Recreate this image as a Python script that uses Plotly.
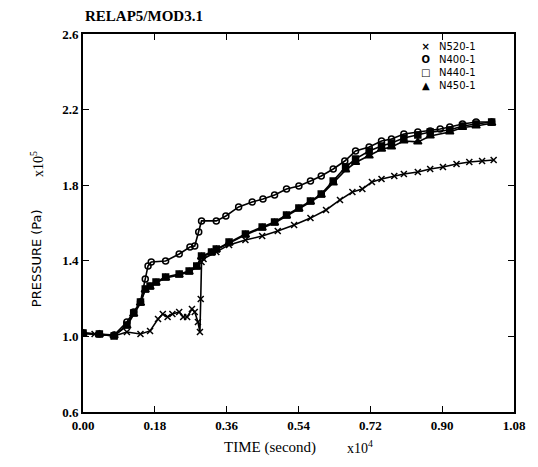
import plotly.graph_objects as go

# Time in units of 1e4 s, pressure in units of 1e5 Pa
t_n400 = [0.000, 0.041, 0.078, 0.110, 0.127, 0.144, 0.156, 0.163, 0.171, 0.207, 0.241, 0.268, 0.280,
          0.290, 0.297, 0.334, 0.358, 0.390, 0.424, 0.451, 0.480, 0.510, 0.541, 0.570, 0.597, 0.627,
          0.656, 0.683, 0.717, 0.748, 0.773, 0.804, 0.839, 0.870, 0.895, 0.919, 0.951, 0.985, 1.024]
p_n400 = [1.018, 1.013, 1.007, 1.076, 1.129, 1.182, 1.304, 1.373, 1.394, 1.399, 1.436, 1.473, 1.478,
          1.552, 1.611, 1.611, 1.637, 1.685, 1.711, 1.727, 1.748, 1.780, 1.796, 1.822, 1.849, 1.886,
          1.928, 1.981, 2.002, 2.034, 2.044, 2.071, 2.081, 2.087, 2.097, 2.108, 2.124, 2.134, 2.134]

t_n440 = [0.000, 0.041, 0.078, 0.110, 0.127, 0.144, 0.156, 0.168, 0.183, 0.207, 0.241, 0.266, 0.285,
          0.297, 0.322, 0.334, 0.366, 0.407, 0.449, 0.480, 0.510, 0.541, 0.570, 0.597, 0.627, 0.658,
          0.683, 0.717, 0.748, 0.773, 0.804, 0.839, 0.870, 0.919, 0.951, 0.985, 1.024]
p_n440 = [1.018, 1.013, 1.002, 1.060, 1.124, 1.182, 1.251, 1.267, 1.288, 1.314, 1.330, 1.346, 1.372,
          1.425, 1.447, 1.462, 1.499, 1.542, 1.579, 1.605, 1.642, 1.679, 1.716, 1.753, 1.822, 1.896,
          1.939, 1.981, 2.007, 2.023, 2.050, 2.066, 2.081, 2.092, 2.113, 2.124, 2.134]

t_n450 = [0.000, 0.041, 0.078, 0.110, 0.127, 0.144, 0.156, 0.168, 0.183, 0.207, 0.241, 0.266, 0.285,
          0.297, 0.322, 0.334, 0.366, 0.407, 0.449, 0.480, 0.510, 0.541, 0.570, 0.597, 0.627, 0.658,
          0.683, 0.717, 0.748, 0.773, 0.804, 0.839, 0.870, 0.919, 0.951, 0.985, 1.024]
p_n450 = [1.015, 1.010, 1.004, 1.055, 1.118, 1.176, 1.246, 1.262, 1.283, 1.309, 1.325, 1.341, 1.367,
          1.420, 1.442, 1.458, 1.494, 1.537, 1.574, 1.600, 1.637, 1.674, 1.711, 1.748, 1.812, 1.880,
          1.920, 1.955, 1.990, 2.002, 2.034, 2.029, 2.060, 2.081, 2.105, 2.113, 2.128]

t_n520 = [0.000, 0.029, 0.078, 0.110, 0.144, 0.168, 0.188, 0.200, 0.212, 0.224, 0.241, 0.251, 0.261,
          0.273, 0.280, 0.288, 0.293, 0.295, 0.297, 0.302, 0.334, 0.366, 0.407, 0.449, 0.488, 0.529,
          0.570, 0.609, 0.644, 0.675, 0.700, 0.724, 0.748, 0.780, 0.804, 0.839, 0.870, 0.902, 0.936,
          0.968, 1.000, 1.029]
p_n520 = [1.018, 1.013, 1.002, 1.023, 1.013, 1.029, 1.092, 1.119, 1.103, 1.119, 1.129, 1.103, 1.103,
          1.145, 1.129, 1.076, 1.023, 1.198, 1.394, 1.410, 1.447, 1.484, 1.510, 1.531, 1.558, 1.589,
          1.626, 1.669, 1.722, 1.764, 1.780, 1.817, 1.833, 1.849, 1.859, 1.870, 1.886, 1.896, 1.912,
          1.923, 1.928, 1.933]

x_tickvals = [0.0, 0.18, 0.36, 0.54, 0.72, 0.90, 1.08]
x_ticktext = ["0.00", "0.18", "0.36", "0.54", "0.72", "0.90", "1.08"]
y_tickvals = [0.6, 1.0, 1.4, 1.8, 2.2, 2.6]
y_ticktext = ["0.6", "1.0", "1.4", "1.8", "2.2", "2.6"]

legend_names = ["N520-1", "N400-1", "N440-1", "N450-1"]
legend_glyphs = ["\u00d7", "O", "\u25a1", "\u25b2"]

series = [
    (legend_names[0], t_n520, p_n520, "x-thin-open", 6),
    (legend_names[1], t_n400, p_n400, "circle-open", 6),
    (legend_names[2], t_n440, p_n440, "square", 6),
    (legend_names[3], t_n450, p_n450, "triangle-up", 7),
]

fig = go.Figure()
for name, t, p, sym, sz in series:
    fig.add_trace(go.Scatter(
        x=t, y=p, mode="lines+markers", name=name, showlegend=False,
        line=dict(color="black", width=1.6),
        marker=dict(symbol=sym, size=sz, color="black",
                    line=dict(color="black", width=1.5)),
    ))

serif = "Liberation Serif"
sans = "DejaVu Sans"

annotations = [
    dict(text="<b>RELAP5/MOD3.1</b>", x=0.0, y=1.048, xref="paper", yref="paper",
         xanchor="left", yanchor="middle", showarrow=False,
         font=dict(family=serif, size=15, color="black")),
    dict(text="TIME (second)", x=0.435, y=-0.095, xref="paper", yref="paper", showarrow=False,
         yanchor="middle", font=dict(family=serif, size=15, color="black")),
    dict(text="x10<sup>4</sup>", x=0.643, y=-0.092, xref="paper", yref="paper", showarrow=False,
         yanchor="middle", font=dict(family=serif, size=14, color="black")),
    dict(text="PRESSURE (Pa)", x=-0.131, y=0.407, xref="paper", yref="paper", showarrow=False,
         textangle=-90, font=dict(family=sans, size=13, color="black")),
    dict(text="x10<sup>5</sup>", x=-0.131, y=0.655, xref="paper", yref="paper", showarrow=False,
         textangle=-90, font=dict(family=serif, size=14, color="black")),
    dict(text="<br>".join("<b>%s</b>" % g for g in legend_glyphs), x=0.795, y=0.915,
         xref="paper", yref="paper", xanchor="center", yanchor="middle", align="center",
         showarrow=False, font=dict(family=sans, size=10, color="black")),
    dict(text="<br>".join(legend_names), x=0.822, y=0.915,
         xref="paper", yref="paper", xanchor="left", yanchor="middle", align="left",
         showarrow=False, font=dict(family=sans, size=10, color="black")),
]

fig.update_layout(
    width=538, height=467,
    margin=dict(l=83, r=12, t=34, b=55),
    paper_bgcolor="white", plot_bgcolor="white",
    font=dict(family=serif, color="black", size=12),
    showlegend=False,
    xaxis=dict(range=[0, 1.08], tickvals=x_tickvals, ticktext=x_ticktext,
               showgrid=False, zeroline=False, showline=True, linecolor="black",
               linewidth=2, mirror="ticks", ticks="inside", ticklen=6, tickwidth=1.2,
               tickcolor="black",
               tickfont=dict(family=serif, size=13, color="black", weight="bold")),
    yaxis=dict(range=[0.6, 2.6], tickvals=y_tickvals, ticktext=y_ticktext,
               showgrid=False, zeroline=False, showline=True, linecolor="black",
               linewidth=2, mirror="ticks", ticks="inside", ticklen=6, tickwidth=1.2,
               tickcolor="black",
               tickfont=dict(family=serif, size=13, color="black", weight="bold")),
    annotations=annotations,
)

fig.write_html("out.html")
